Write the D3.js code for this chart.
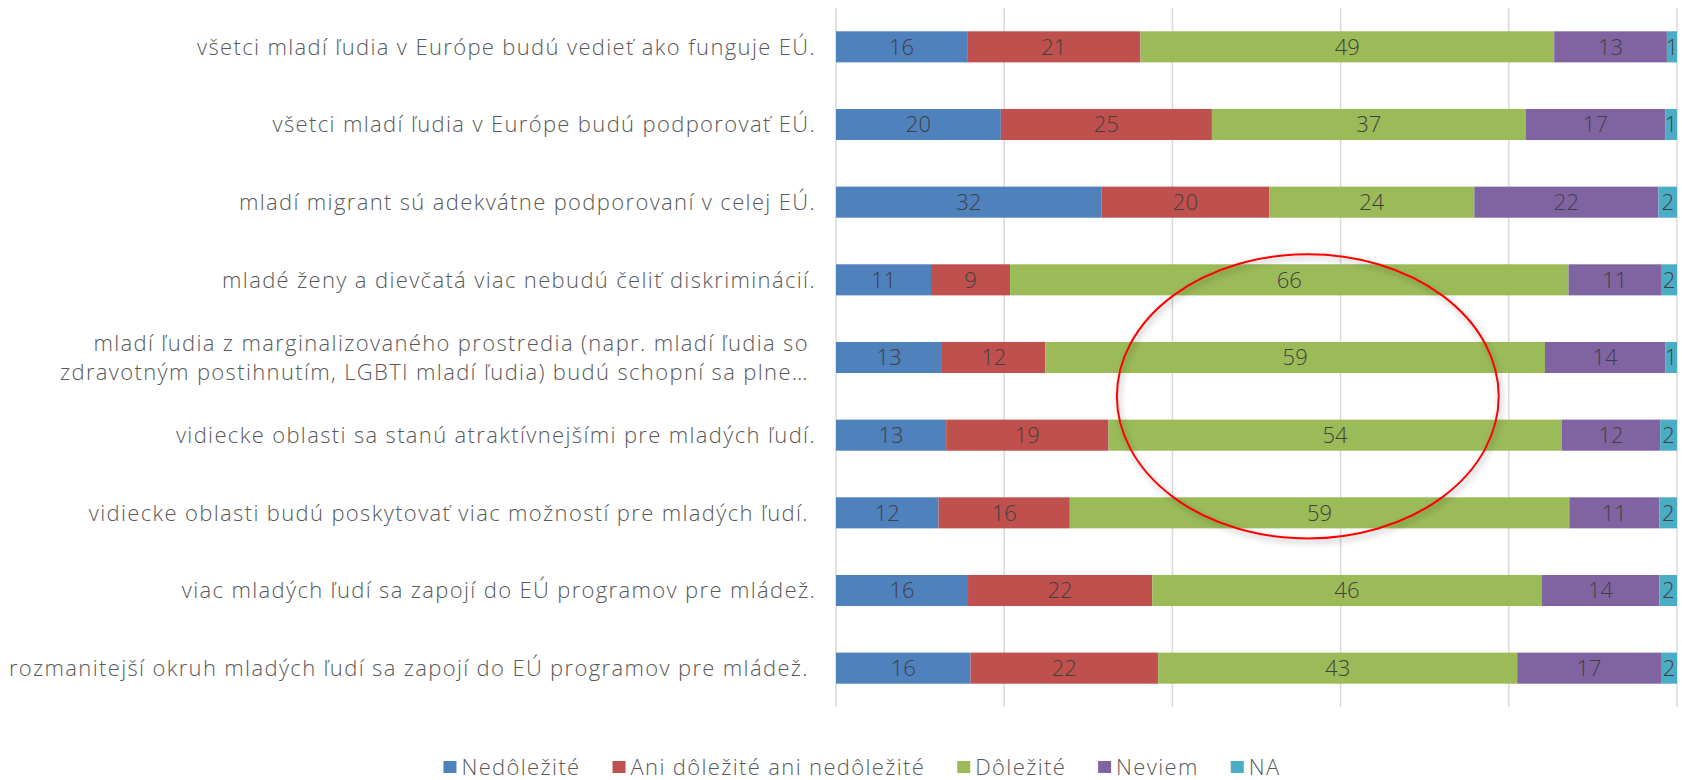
<!DOCTYPE html>
<html>
<head>
<meta charset="utf-8">
<script src="https://cdnjs.cloudflare.com/ajax/libs/d3/7.8.5/d3.min.js"></script>
<style>
  body { margin: 0; background: #fff; }
  text { font-family: "Open Sans", Lato, sans-serif; font-weight: 300; }
  .cat, .leg { letter-spacing: 1.35px; white-space: pre; }
</style>
</head>
<body>
<div id="chart"></div>
<script>
// categories, top to bottom (some carry a trailing space like the source sheet)
var categories = [
    "všetci mladí ľudia v Európe budú vedieť ako funguje EÚ.",
    "všetci mladí ľudia v Európe budú podporovať EÚ.",
    "mladí migrant sú adekvátne podporovaní v celej EÚ.",
    "mladé ženy a dievčatá viac nebudú čeliť diskriminácií.",
    "mladí ľudia z marginalizovaného prostredia (napr. mladí ľudia so \nzdravotným postihnutím, LGBTI mladí ľudia) budú schopní sa plne… ",
    "vidiecke oblasti sa stanú atraktívnejšími pre mladých ľudí.",
    "vidiecke oblasti budú poskytovať viac možností pre mladých ľudí. ",
    "viac mladých ľudí sa zapojí do EÚ programov pre mládež.",
    "rozmanitejší okruh mladých ľudí sa zapojí do EÚ programov pre mládež. "
];
var seriesNames = ["Nedôležité", "Ani dôležité ani nedôležité", "Dôležité", "Neviem", "NA"];
var seriesColors = ["#4f81bd", "#c0504d", "#9bbb59", "#8064a2", "#4bacc6"];

// percent shares, labels are rounded
var nedolezite = [15.6, 19.6, 31.6, 11.3, 12.6, 13.1, 12.2, 15.7, 16.0];
var ani        = [20.6, 25.1, 19.9,  9.4, 12.3, 19.3, 15.6, 21.9, 22.3];
var dolezite   = [49.2, 37.3, 24.4, 66.4, 59.4, 53.9, 59.4, 46.3, 42.7];
var neviem     = [13.4, 16.6, 21.9, 11.0, 14.3, 11.7, 10.7, 14.0, 17.1];
var na         = [ 1.2,  1.4,  2.2,  1.9,  1.4,  2.0,  2.1,  2.1,  1.9];
var gridTicks = [0, 20, 40, 60, 80, 100];

var width = 1682, height = 780;
var margin = {top: 8, right: 5, bottom: 73, left: 836};

var rows = categories.map(function (c, i) {
    return {cat: c, "Nedôležité": nedolezite[i], "Ani dôležité ani nedôležité": ani[i],
            "Dôležité": dolezite[i], "Neviem": neviem[i], "NA": na[i]};
});

var svg = d3.select("#chart").append("svg")
    .attr("width", width)
    .attr("height", height);

var x = d3.scaleLinear().domain([0, 100]).range([margin.left, width - margin.right]);
var y = d3.scaleBand().domain(categories).range([margin.top, height - margin.bottom]).paddingInner(0.6).paddingOuter(0.3);

// gridlines
svg.append("g").selectAll("line")
    .data(gridTicks)
    .enter().append("line")
    .attr("x1", function (d) { return x(d); })
    .attr("x2", function (d) { return x(d); })
    .attr("y1", margin.top)
    .attr("y2", height - margin.bottom)
    .style("stroke", "#d9d9d9")
    .style("stroke-width", 1.5);

var stack = d3.stack().keys(seriesNames)(rows);

var layers = svg.append("g").selectAll("g")
    .data(stack)
    .enter().append("g")
    .attr("fill", function (d, i) { return seriesColors[i]; });

layers.selectAll("rect")
    .data(function (d) { return d; })
    .enter().append("rect")
    .attr("x", function (d) { return x(d[0]); })
    .attr("width", function (d) { return x(d[1]) - x(d[0]); })
    .attr("y", function (d) { return y(d.data.cat); })
    .attr("height", y.bandwidth());

layers.selectAll("text")
    .data(function (d) { return d; })
    .enter().append("text")
    .attr("x", function (d) { return (x(d[0]) + x(d[1])) / 2; })
    .attr("y", function (d) { return y(d.data.cat) + y.bandwidth() / 2; })
    .attr("dy", "0.36em")
    .style("text-anchor", "middle")
    .style("font-size", "22px")
    .style("fill", "#404040")
    .text(function (d) { return d3.format(".0f")(d[1] - d[0]); });

// category labels
var labelX = margin.left - 20;
var catLabels = svg.append("g").selectAll("text")
    .data(categories)
    .enter().append("text")
    .attr("class", "cat")
    .attr("x", labelX)
    .attr("y", function (d) { return y(d) + y.bandwidth() / 2; })
    .style("text-anchor", "end")
    .style("font-size", "22px")
    .style("fill", "#595959");

catLabels.each(function (d) {
    var lines = d.split("\n");
    var t = d3.select(this);
    lines.forEach(function (line, i) {
        t.append("tspan")
            .attr("x", labelX)
            .attr("dy", i === 0 ? (0.36 - (lines.length - 1) * 0.65) + "em" : "1.3em")
            .text(line);
    });
});

// highlight ellipse
var defs = svg.append("defs");
var f = defs.append("filter").attr("id", "shadow").attr("x", "-20%").attr("y", "-20%").attr("width", "140%").attr("height", "140%");
f.append("feDropShadow").attr("dx", 2).attr("dy", 3).attr("stdDeviation", 3)
    .attr("flood-color", "#000").attr("flood-opacity", 0.35);

var step = y.step();
svg.append("ellipse")
    .attr("cx", x(56.1))
    .attr("cy", y(categories[5]) - (step - y.bandwidth()) / 2)
    .attr("rx", x(22.7) - x(0))
    .attr("ry", step * 1.83)
    .style("fill", "none")
    .style("stroke", "#ff0000")
    .style("stroke-width", 2)
    .attr("filter", "url(#shadow)");

// legend
var legend = svg.append("g");
var lx = 0;
var items = legend.selectAll("g")
    .data(seriesNames)
    .enter().append("g");
items.append("rect")
    .attr("width", 13).attr("height", 12)
    .attr("y", -6)
    .attr("fill", function (d, i) { return seriesColors[i]; });
items.append("text")
    .attr("class", "leg")
    .attr("x", 18)
    .attr("dy", "0.36em")
    .style("font-size", "22px")
    .style("fill", "#595959")
    .text(function (d) { return d; });
items.each(function () {
    var g = d3.select(this);
    g.attr("transform", "translate(" + lx + ",0)");
    lx += 18 + g.select("text").node().getComputedTextLength() + 32;
});
var legendWidth = lx - 32;
legend.attr("transform", "translate(" + (862 - legendWidth / 2) + ",767)");
</script>
</body>
</html>
